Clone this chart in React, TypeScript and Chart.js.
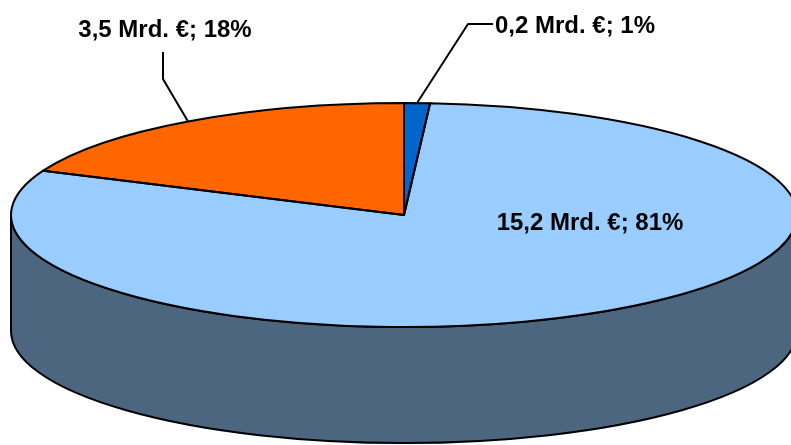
import React, { useEffect, useRef } from "react";
import { Chart, registerables } from "chart.js";

Chart.register(...registerables);

// Slice data, clockwise from 12 o'clock
const sliceNames = ["Anteil A", "Anteil B", "Anteil C"];
const valuesMrd = [0.2, 15.2, 3.5];
const shareLabels = ["1%", "81%", "18%"];
const sliceColors = ["#0066CC", "#99CCFF", "#FF6600"];

const W = 791;
const H = 445;

// Where each slice's caption goes (leader polyline after the rim anchor, text anchor)
const labelLayout = [
  { leader: [[468, 24], [493, 24]], text: [495, 33], align: "left" },
  { leader: null, text: [590, 230], align: "center" },
  { leader: [[163, 79], [163, 52]], text: [165, 37], align: "center" },
];

const formatLabel = (i: number) =>
  `${valuesMrd[i].toFixed(1).replace(".", ",")} Mrd. €; ${shareLabels[i]}`;

function darken(hex: string, f: number) {
  const n = parseInt(hex.slice(1), 16);
  const r = Math.round(((n >> 16) & 255) * f);
  const g = Math.round(((n >> 8) & 255) * f);
  const b = Math.round((n & 255) * f);
  return `rgb(${r},${g},${b})`;
}

// Tilts the flat pie into an ellipse and extrudes the visible rim
const pie3d = {
  id: "pie3d",
  beforeDatasetsDraw(chart: any, _args: any, opts: any) {
    const arcs = chart.getDatasetMeta(0).data;
    if (!arcs.length) return;
    const { cx, cy, rx, ry, depth } = opts;
    const ctx: CanvasRenderingContext2D = chart.ctx;

    ctx.save();
    ctx.lineWidth = opts.lineWidth;
    ctx.strokeStyle = opts.lineColor;
    ctx.lineJoin = "round";
    arcs.forEach((arc: any, i: number) => {
      const a0 = arc.startAngle;
      const a1 = arc.endAngle;
      for (let k = -1; k <= 1; k++) {
        const lo = Math.max(a0, 2 * Math.PI * k);
        const hi = Math.min(a1, Math.PI + 2 * Math.PI * k);
        if (hi <= lo) continue;
        ctx.beginPath();
        ctx.ellipse(cx, cy, rx, ry, 0, lo, hi, false);
        ctx.ellipse(cx, cy + depth, rx, ry, 0, hi, lo, true);
        ctx.closePath();
        ctx.fillStyle = darken(sliceColors[i], 0.5);
        ctx.fill();
        ctx.stroke();
      }
    });
    ctx.restore();

    const { x, y, outerRadius } = arcs[0];
    ctx.save();
    ctx.translate(cx, cy);
    ctx.scale(rx / outerRadius, ry / outerRadius);
    ctx.translate(-x, -y);
    chart.$pie3dSaved = true;
  },
  afterDatasetsDraw(chart: any, _args: any, opts: any) {
    const ctx: CanvasRenderingContext2D = chart.ctx;
    if (!chart.$pie3dSaved) return;
    ctx.restore();
    chart.$pie3dSaved = false;

    const arcs = chart.getDatasetMeta(0).data;
    const { cx, cy, rx, ry } = opts;
    const pt = (a: number) => [cx + rx * Math.cos(a), cy + ry * Math.sin(a)];

    ctx.save();
    ctx.lineWidth = opts.lineWidth;
    ctx.strokeStyle = opts.lineColor;
    ctx.lineJoin = "round";
    arcs.forEach((arc: any) => {
      const p = pt(arc.startAngle);
      ctx.beginPath();
      ctx.moveTo(cx, cy);
      ctx.lineTo(p[0], p[1]);
      ctx.ellipse(cx, cy, rx, ry, 0, arc.startAngle, arc.endAngle, false);
      ctx.closePath();
      ctx.stroke();
    });

    ctx.font = opts.font;
    ctx.fillStyle = "#000";
    ctx.textBaseline = "alphabetic";
    arcs.forEach((arc: any, i: number) => {
      const lay = labelLayout[i];
      if (lay.leader) {
        const mid = (arc.startAngle + arc.endAngle) / 2;
        const a = pt(mid);
        ctx.beginPath();
        ctx.moveTo(a[0], a[1]);
        lay.leader.forEach((q) => ctx.lineTo(q[0], q[1]));
        ctx.lineWidth = opts.leaderWidth;
        ctx.stroke();
      }
      ctx.textAlign = lay.align as CanvasTextAlign;
      ctx.fillText(formatLabel(i), lay.text[0], lay.text[1]);
    });
    ctx.restore();
  },
};

export default function App() {
  const ref = useRef<HTMLCanvasElement>(null);

  useEffect(() => {
    if (!ref.current) return;
    const chart = new Chart(ref.current, {
      type: "pie",
      data: {
        labels: sliceNames,
        datasets: [
          {
            data: valuesMrd,
            backgroundColor: sliceColors,
            borderWidth: 0,
            clip: false as any,
          },
        ],
      },
      options: {
        responsive: false,
        animation: false,
        events: [],
        rotation: 0,
        layout: { padding: 0 },
        plugins: {
          legend: { display: false },
          tooltip: { enabled: false },
          pie3d: {
            cx: 404,
            cy: 215,
            rx: 393,
            ry: 112,
            depth: 116,
            lineWidth: 2,
            leaderWidth: 2,
            lineColor: "#000",
            font: "bold 24px 'Liberation Sans', Arial, sans-serif",
          },
        } as any,
      },
      plugins: [pie3d as any],
    });
    return () => chart.destroy();
  }, []);

  return (
    <div style={{ position: "absolute", left: 0, top: 0, width: W, height: H, background: "#fff" }}>
      <canvas ref={ref} width={W} height={H} style={{ display: "block" }} />
    </div>
  );
}
